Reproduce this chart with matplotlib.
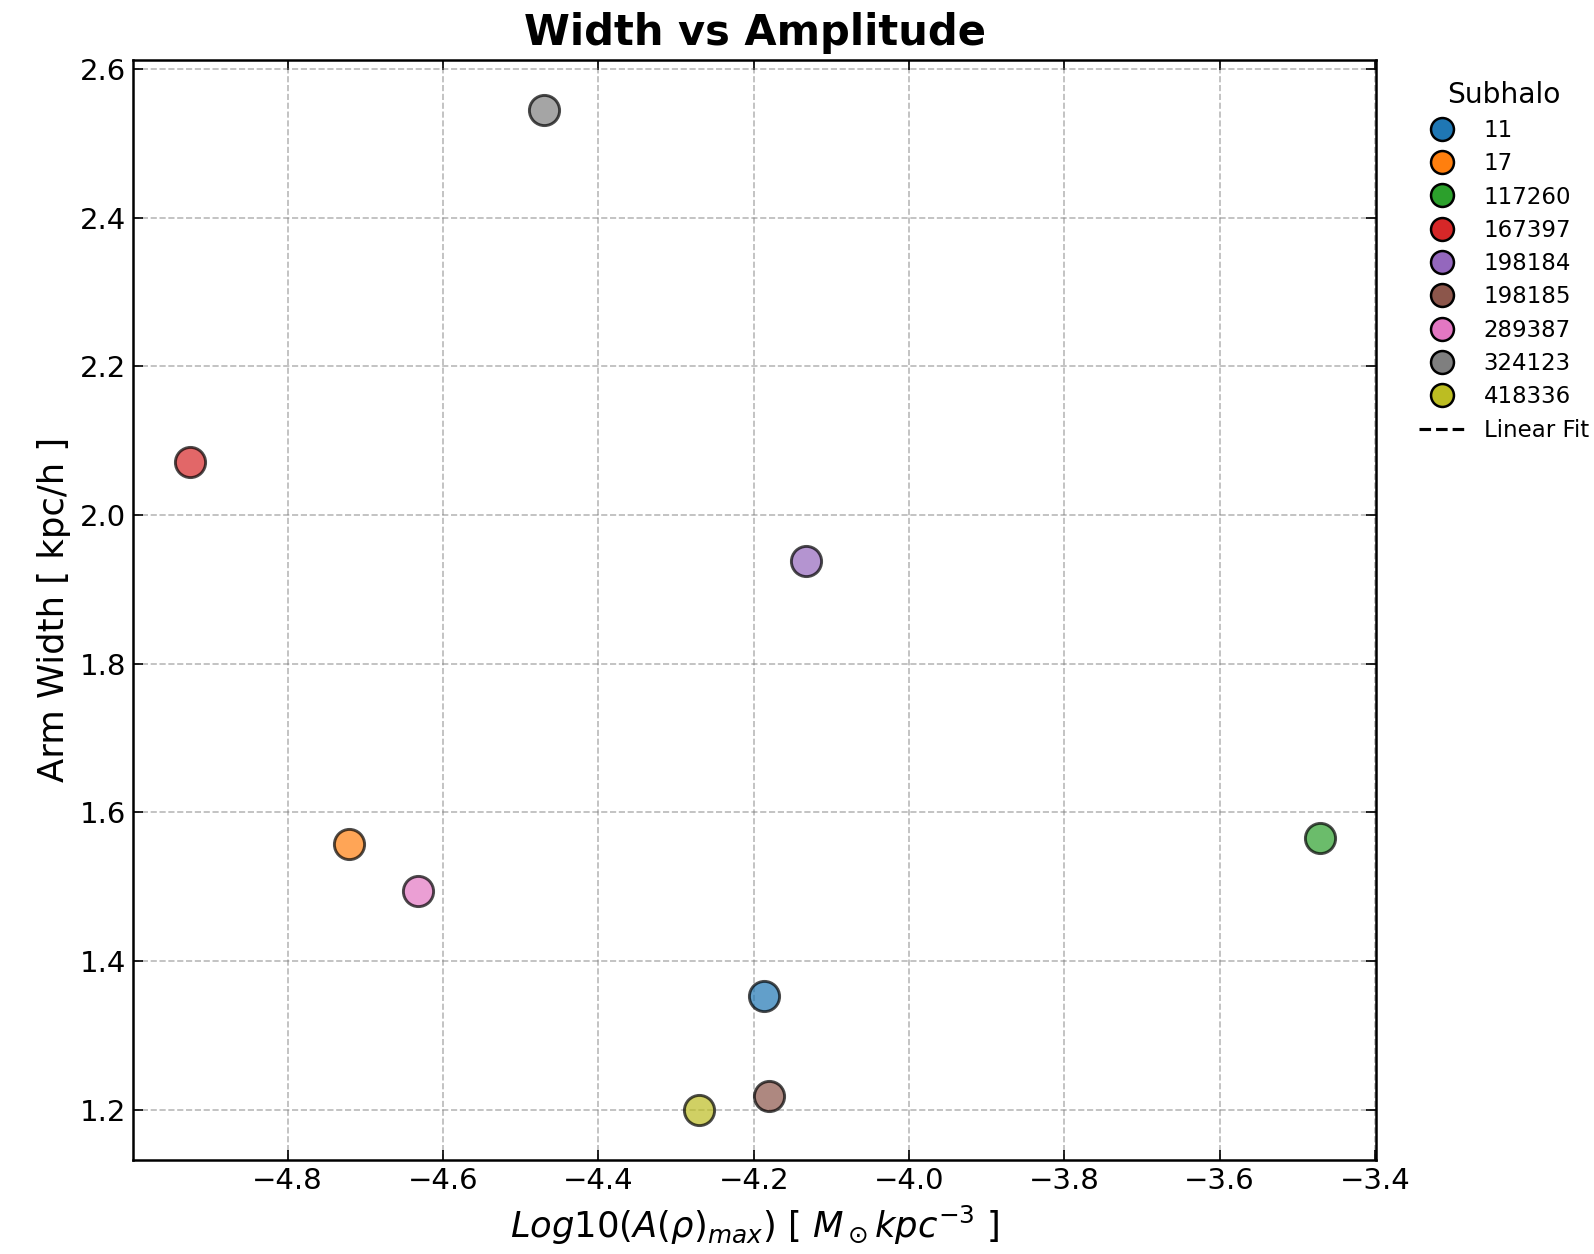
import numpy as np
import matplotlib
matplotlib.use("Agg")
import matplotlib.pyplot as plt
from matplotlib.lines import Line2D

subhalos = ["11", "17", "117260", "167397", "198184", "198185", "289387", "324123", "418336"]
log_amp = np.array([-4.187, -4.721, -3.471, -4.926, -4.133, -4.180, -4.632, -4.470, -4.270])
arm_width = np.array([1.353, 1.557, 1.566, 2.071, 1.938, 1.219, 1.494, 2.545, 1.200])

colors = plt.get_cmap("tab10").colors

fig = plt.figure(figsize=(10.633, 8.36), dpi=150)
ax = fig.add_axes([0.0836, 0.0752, 0.7794, 0.877])

handles = []
for i, name in enumerate(subhalos):
    ax.scatter(log_amp[i], arm_width[i], s=210, color=colors[i], alpha=0.7,
               edgecolor="black", linewidths=1.4, zorder=3)
    handles.append(Line2D([], [], marker="o", linestyle="none", markersize=11,
                          markerfacecolor=colors[i], markeredgecolor="black",
                          markeredgewidth=1.2, label=name))

# fit line kept in the legend (nothing drawn inside the axes in the reference)
fit_line, = ax.plot([], [], "k--", linewidth=1.5, label="Linear Fit")
handles.append(fit_line)

ax.set_title("Width vs Amplitude", fontsize=20, fontweight="bold", pad=7)
ax.set_xlabel(r"$Log10(A(\rho)_{max})$ [ $M_\odot kpc^{-3}$ ]", fontsize=17)
ax.set_ylabel("Arm Width [ kpc/h ]", fontsize=17)

ax.tick_params(direction="in", top=True, right=True, length=5, labelsize=14)
ax.grid(True, linestyle="--", color="gray", alpha=0.55, linewidth=0.8)
for sp in ax.spines.values():
    sp.set_linewidth(1.2)

leg = ax.legend(handles=handles, title="Subhalo", loc="upper left",
                bbox_to_anchor=(1.018, 1.0), frameon=False, fontsize=11,
                title_fontsize=13.5, labelspacing=0.45)

fig.savefig("out.png", dpi=150)
